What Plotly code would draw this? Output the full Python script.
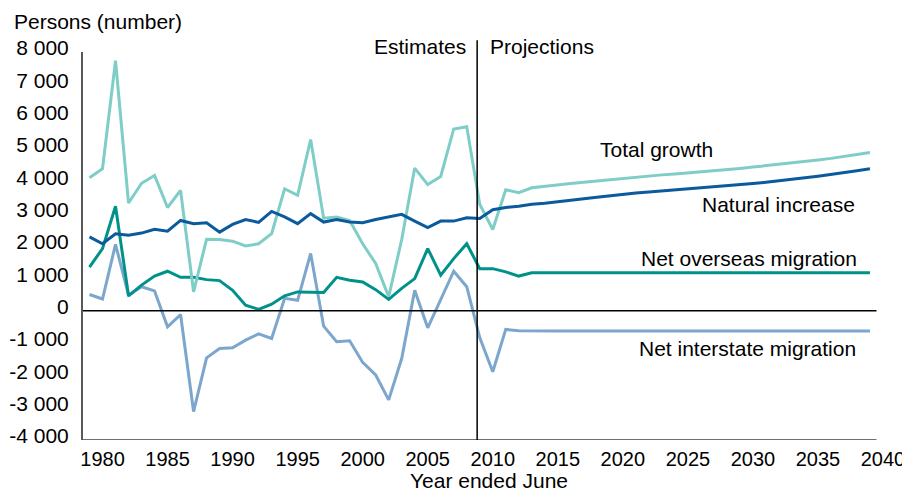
import plotly.graph_objects as go

years = list(range(1979, 2040))

total_growth = [4110, 4390, 7730, 3330, 3940, 4180, 3190, 3720, 580, 2210,
                2200, 2150, 2000, 2070, 2380, 3770, 3570, 5290, 2860, 2900,
                2790, 2070, 1460, 430, 2200, 4410, 3900, 4150, 5620, 5690,
                3290, 2510, 3740, 3650, 3800, 3850, 3880, 3930, 3970, 4010,
                4060, 4100, 4140, 4170, 4200, 4230, 4260, 4290, 4320, 4360,
                4400, 4440, 4480, 4520, 4560, 4610, 4660, 4710, 4760, 4830,
                4890]

natural_increase = [2280, 2070, 2380, 2330, 2400, 2520, 2460, 2790, 2690, 2720,
                    2430, 2670, 2820, 2730, 3070, 2900, 2690, 3000, 2740, 2820,
                    2740, 2720, 2820, 2900, 2980, 2770, 2570, 2770, 2770, 2870,
                    2850, 3120, 3190, 3230, 3290, 3320, 3360, 3410, 3460, 3510,
                    3560, 3610, 3640, 3670, 3700, 3730, 3760, 3790, 3820, 3860,
                    3890, 3930, 3970, 4010, 4060, 4110, 4160, 4210, 4270, 4330,
                    4390]

net_overseas = [1350, 1920, 3230, 460, 790, 1070, 1220, 1030, 1030, 960,
                930, 630, 170, 40, 200, 460, 580, 560, 560, 1030,
                940, 890, 650, 350, 690, 990, 1920, 1100, 1610, 2070,
                1300, 1300, 1200, 1070, 1170, 1170, 1170, 1170, 1170, 1170,
                1170, 1170, 1170, 1170, 1170, 1170, 1170, 1170, 1170, 1170,
                1170, 1170, 1170, 1170, 1170, 1170, 1170, 1170, 1170, 1170,
                1170]

net_interstate = [500, 360, 2050, 480, 740, 610, -500, -120, -3120, -1460,
                  -1170, -1150, -910, -720, -860, 380, 320, 1770, -480, -960,
                  -930, -1600, -1990, -2760, -1480, 630, -530, 350, 1220, 740,
                  -830, -1890, -580, -620, -630, -630, -630, -630, -630, -630,
                  -630, -630, -630, -630, -630, -630, -630, -630, -630, -630,
                  -630, -630, -630, -630, -630, -630, -630, -630, -630, -630,
                  -630]

x_tick_vals = list(range(1980, 2041, 5))
x_tick_text = [str(v) for v in x_tick_vals]
y_tick_vals = list(range(-4000, 8001, 1000))
y_tick_text = ["-4 000", "-3 000", "-2 000", "-1 000", "0", "1 000", "2 000",
               "3 000", "4 000", "5 000", "6 000", "7 000", "8 000"]

series_names = ["Net interstate migration", "Net overseas migration",
                "Total growth", "Natural increase"]
series_colors = ["#7ca6cc", "#00928a", "#7fcdc7", "#0a5a9c"]
series_values = [net_interstate, net_overseas, total_growth, natural_increase]

split_year = 2008.8
x_min, x_max = 1978.5, 2039.5

FONT = "Liberation Sans, Arial, sans-serif"

fig = go.Figure()
for name, col, vals in zip(series_names, series_colors, series_values):
    fig.add_trace(go.Scatter(x=years, y=vals, mode="lines", name=name,
                             line=dict(color=col, width=3), showlegend=False))

# zero line, bottom axis line, estimates/projections divider
fig.add_shape(type="line", xref="x", yref="y", x0=x_min, x1=x_max, y0=0, y1=0,
              line=dict(color="black", width=1.5))
fig.add_shape(type="line", xref="x", yref="y", x0=x_min, x1=x_max, y0=-4000, y1=-4000,
              line=dict(color="#404040", width=1.5))
fig.add_shape(type="line", xref="x", yref="paper", x0=split_year, x1=split_year,
              y0=0, y1=1.03, line=dict(color="black", width=1.5))

ann = []
ann.append(dict(text="Persons (number)", xref="paper", yref="paper", x=0, y=1,
                xanchor="left", yanchor="middle", xshift=-71, yshift=31,
                showarrow=False, font=dict(size=21, color="black", family=FONT)))
ann.append(dict(text="Estimates", xref="x", yref="paper", x=split_year, y=1.014,
                xanchor="right", yanchor="middle", xshift=-9, showarrow=False,
                font=dict(size=21, color="black", family=FONT)))
ann.append(dict(text="Projections", xref="x", yref="paper", x=split_year, y=1.014,
                xanchor="left", yanchor="middle", xshift=11, showarrow=False,
                font=dict(size=21, color="black", family=FONT)))
labels = [("Total growth", 2022.6, 4980),
          ("Natural increase", 2032.0, 3290),
          ("Net overseas migration", 2029.7, 1620),
          ("Net interstate migration", 2029.6, -1170)]
for t, lx, ly in labels:
    ann.append(dict(text=t, x=lx, y=ly, xref="x", yref="y", xanchor="center",
                    yanchor="middle", showarrow=False,
                    font=dict(size=21, color="black", family=FONT)))
ann.append(dict(text="Year ended June", xref="paper", yref="paper", x=0.508, y=-0.104,
                xanchor="center", yanchor="middle", showarrow=False, borderpad=0,
                font=dict(size=21, color="black", family=FONT)))

# the page adds an 8 px body margin, so the figure is 8 px smaller each way
fig.update_layout(
    width=902, height=485,
    margin=dict(l=75, r=27, t=44, b=53),
    plot_bgcolor="white", paper_bgcolor="white",
    font=dict(family=FONT, size=20, color="black"),
    annotations=ann,
    xaxis=dict(range=[x_min, 2040.0], tickvals=x_tick_vals, ticktext=x_tick_text,
               showgrid=False, zeroline=False, showline=False, ticks="",
               automargin=False, ticklabelstandoff=5,
               tickfont=dict(size=20, color="black", family=FONT)),
    yaxis=dict(range=[-4000, 8000], tickvals=y_tick_vals, ticktext=y_tick_text,
               showgrid=False, zeroline=False, showline=True, linecolor="#595959",
               linewidth=2, ticks="", ticklabelstandoff=8, ticklabelshift=-4,
               automargin=False,
               tickfont=dict(size=21, color="black", family=FONT)),
)

fig.write_html("out.html")
